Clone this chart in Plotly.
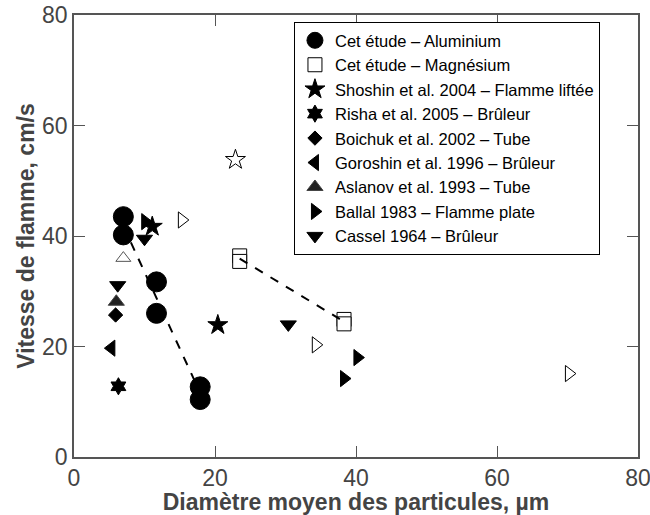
import plotly.graph_objects as go

# Data (diameter in um, flame speed in cm/s)
al_x = [7.0, 7.0, 11.7, 11.7, 17.9, 17.9]
al_y = [43.5, 40.2, 31.7, 26.0, 12.7, 10.4]
al_trend_x = [7.0, 17.9]
al_trend_y = [41.8, 11.6]

mg_x = [23.5, 23.5, 38.3, 38.3]
mg_y = [36.4, 35.4, 24.9, 24.1]
mg_trend_x = [23.5, 38.3]
mg_trend_y = [35.9, 24.5]

shoshin_x = [11.1, 20.4]
shoshin_y = [41.7, 23.9]
risha_x = [6.3]
risha_y = [12.8]
boichuk_x = [5.9]
boichuk_y = [25.7]
goroshin_x = [5.3]
goroshin_y = [19.7]
aslanov_x = [6.0]
aslanov_y = [28.1]
ballal_x = [10.1, 40.2, 38.3]
ballal_y = [42.6, 18.0, 14.2]
cassel_x = [6.2, 10.0, 30.4]
cassel_y = [31.1, 39.5, 24.0]

# open symbols (not in legend)
open_star_x = [22.9]
open_star_y = [53.8]
open_up_x = [7.0]
open_up_y = [36.0]
open_right_x = [15.3, 34.3, 70.2]
open_right_y = [42.9, 20.3, 15.1]

x_ticks = [0, 20, 40, 60, 80]
y_ticks = [0, 20, 40, 60, 80]

FONT = "Liberation Sans, Arial, sans-serif"
AXIS_GREY = "#555555"
TEXT_GREY = "#444444"

fig = go.Figure()

# Aluminium trend under the circles
fig.add_trace(go.Scatter(
    x=al_trend_x, y=al_trend_y, mode="lines",
    line=dict(color="black", width=2, dash="dash"),
    showlegend=False, hoverinfo="skip"
))

series = [
    ("Cet étude – Aluminium", al_x, al_y, "circle", 20, "black", "black"),
    ("Cet étude – Magnésium", mg_x, mg_y, "square", 14, "white", "black"),
    ("Shoshin et al. 2004 – Flamme liftée", shoshin_x, shoshin_y, "star", 15, "black", "black"),
    ("Risha et al. 2005 – Brûleur", risha_x, risha_y, "hexagram", 13, "black", "black"),
    ("Boichuk et al. 2002 – Tube", boichuk_x, boichuk_y, "diamond", 11, "black", "black"),
    ("Goroshin et al. 1996 – Brûleur", goroshin_x, goroshin_y, "triangle-left", 14, "black", "black"),
    ("Aslanov et al. 1993 – Tube", aslanov_x, aslanov_y, "triangle-up", 14, "#222222", "#444444"),
    ("Ballal 1983 – Flamme plate", ballal_x, ballal_y, "triangle-right", 14, "black", "black"),
    ("Cassel 1964 – Brûleur", cassel_x, cassel_y, "triangle-down", 14, "black", "black"),
]

for name, xs, ys, sym, size, fill, edge in series:
    fig.add_trace(go.Scatter(
        x=xs, y=ys, mode="markers", name=name,
        marker=dict(symbol=sym, size=size, color=fill,
                    line=dict(color=edge, width=1))
    ))

# Magnesium trend drawn over the squares
fig.add_trace(go.Scatter(
    x=mg_trend_x, y=mg_trend_y, mode="lines",
    line=dict(color="black", width=2, dash="dash"),
    showlegend=False, hoverinfo="skip"
))

for xs, ys, sym, size, col in [
    (open_star_x, open_star_y, "star-open", 15, "black"),
    (open_up_x, open_up_y, "triangle-up-open", 13, "#555555"),
    (open_right_x, open_right_y, "triangle-right-open", 14, "black"),
]:
    fig.add_trace(go.Scatter(
        x=xs, y=ys, mode="markers", showlegend=False,
        marker=dict(symbol=sym, size=size, color=col, line=dict(width=1))
    ))

axis_common = dict(
    showgrid=False, zeroline=False, ticklabeloverflow="allow",
    showline=True, linecolor=AXIS_GREY, linewidth=1.5, mirror="ticks",
    ticks="inside", ticklen=11, tickwidth=1, tickcolor=AXIS_GREY,
    tickfont=dict(family=FONT, size=23, color=TEXT_GREY),
)

fig.update_xaxes(
    range=[0, 80], tickvals=x_ticks, automargin=False,
    title=dict(text="<b>Diamètre moyen des particules, µm</b>",
               font=dict(family=FONT, size=23, color=TEXT_GREY)),
    **axis_common
)
fig.update_yaxes(
    range=[0, 80], tickvals=y_ticks, automargin="left",
    title=dict(text="<b>Vitesse de flamme, cm/s</b>",
               font=dict(family=FONT, size=23, color=TEXT_GREY), standoff=1),
    **axis_common
)

fig.update_layout(
    width=650, height=515,
    margin=dict(l=74, r=12, t=15, b=58),
    paper_bgcolor="white", plot_bgcolor="white",
    legend=dict(
        x=0.39, y=0.984, xanchor="left", yanchor="top",
        bgcolor="white", bordercolor="black", borderwidth=1,
        font=dict(family=FONT, size=16.5, color="black"),
    ),
    showlegend=True,
)

# page body has a default 8px margin; drop it so the figure fills the window
fig.write_html("out.html", config={"displayModeBar": False},
               post_script="document.body.style.margin='0px';")
